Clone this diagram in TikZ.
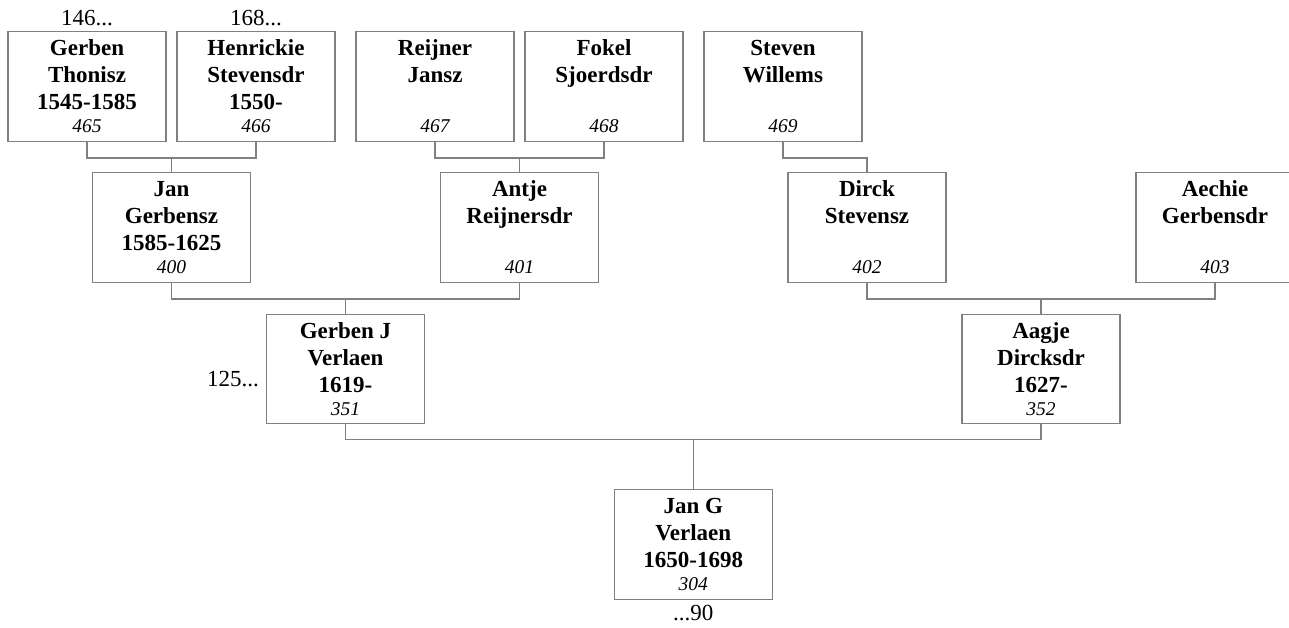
\documentclass[tikz,border=0pt]{standalone}
\usepackage{fontspec}
\setmainfont{Liberation Serif}
\definecolor{linegray}{RGB}{128,128,128}
\begin{document}
\begin{tikzpicture}[x=1pt,y=-1pt,
  person/.style={draw=linegray, line width=1.3pt, fill=white,
    minimum width=158pt, minimum height=109.5pt, inner sep=0pt,
    align=center, font=\fontsize{23}{27}\selectfont\bfseries},
  conn/.style={draw=linegray, line width=1.3pt},
  extra/.style={font=\fontsize{23}{27}\selectfont, inner sep=0pt}
]
\useasboundingbox (0,0) rectangle (1289,628);
\newcommand{\num}[1]{\\[-4pt]{\fontsize{19.5}{22}\selectfont\mdseries\itshape #1}}
% row 1
\node[person] (gt) at (87,86.5)  {Gerben\\Thonisz\\1545-1585\num{465}};
\node[person] (hs) at (256,86.5) {Henrickie\\Stevensdr\\1550-\num{466}};
\node[person] (rj) at (435,86.5) {Reijner\\Jansz\\\mbox{}\num{467}};
\node[person] (fs) at (604,86.5) {Fokel\\Sjoerdsdr\\\mbox{}\num{468}};
\node[person] (sw) at (783,86.5) {Steven\\Willems\\\mbox{}\num{469}};
% row 2
\node[person] (jg) at (171.5,227.5) {Jan\\Gerbensz\\1585-1625\num{400}};
\node[person] (ar) at (519.5,227.5) {Antje\\Reijnersdr\\\mbox{}\num{401}};
\node[person] (ds) at (867,227.5)   {Dirck\\Stevensz\\\mbox{}\num{402}};
\node[person] (ag) at (1215,227.5)  {Aechie\\Gerbensdr\\\mbox{}\num{403}};
% row 3
\node[person] (gj) at (345.5,369) {Gerben J\\Verlaen\\1619-\num{351}};
\node[person] (ad) at (1041,369)  {Aagje\\Dircksdr\\1627-\num{352}};
% row 4
\node[person] (jv) at (693.25,544.5) {Jan G\\Verlaen\\1650-1698\num{304}};
% extra labels
\node[extra, anchor=base] (l146) at (87,26) {146...};
\node[extra, anchor=base] (l168) at (256,26) {168...};
\node[extra, anchor=base east] (l125) at (259,386) {125...};
\node[extra, anchor=base] (l90) at (693.25,620) {...90};
% connectors
\draw[conn] (gt.south) -- ++(0,16) coordinate (h1) -| (hs.south);
\draw[conn] (jg.north) -- (jg.north |- h1);
\draw[conn] (rj.south) -- ++(0,16) coordinate (h2) -| (fs.south);
\draw[conn] (ar.north) -- (ar.north |- h2);
\draw[conn] (sw.south) -- ++(0,16) -| (ds.north);
\draw[conn] (jg.south) -- ++(0,16) coordinate (h3) -| (ar.south);
\draw[conn] (gj.north) -- (gj.north |- h3);
\draw[conn] (ds.south) -- ++(0,16) coordinate (h4) -| (ag.south);
\draw[conn] (ad.north) -- (ad.north |- h4);
\draw[conn] (gj.south) -- ++(0,15) coordinate (h5) -| (ad.south);
\draw[conn] (jv.north) -- (jv.north |- h5);
\end{tikzpicture}
\end{document}
